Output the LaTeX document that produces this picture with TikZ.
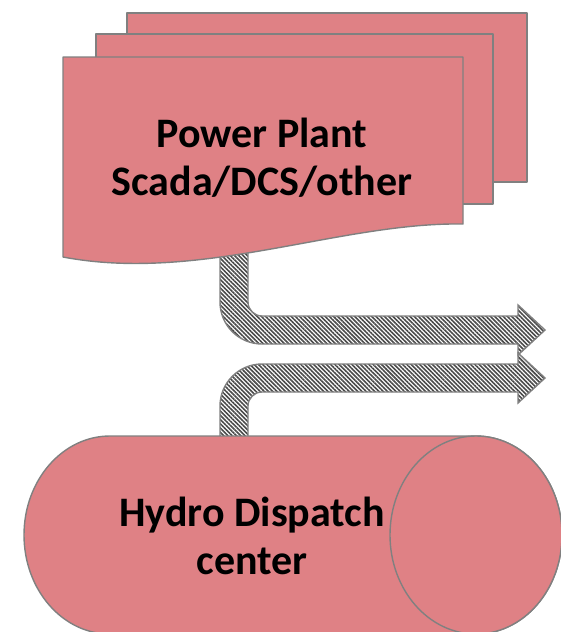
\documentclass[tikz,border=0pt]{standalone}
\usepackage{fontspec}
\setmainfont{Carlito}
\usetikzlibrary{patterns.meta}
\definecolor{sheetfill}{HTML}{DF8185}
\definecolor{edgegray}{HTML}{808080}
\definecolor{stripe}{HTML}{4A4A4A}
\tikzset{
  shapebox/.style={fill=sheetfill, draw=edgegray, line width=1.4pt, line join=round},
  stripearrow/.style={draw=edgegray, line width=1.4pt, line join=miter,
    pattern={Lines[angle=-45, distance=3pt, line width=1.6pt]}, pattern color=stripe},
  bigtext/.style={font=\fontsize{42}{48}\selectfont\bfseries, align=center, inner sep=0pt}
}
\begin{document}
\begin{tikzpicture}[x=1pt, y=-1pt]
\useasboundingbox (0,0) rectangle (561,632);
\fill[white] (0,0) rectangle (561,632);
% upper arrow (from power plant)
\draw[stripearrow] (220,250) -- (220,302)
  arc[start angle=180, end angle=90, radius=42]
  -- (518,344) -- (518,355) -- (545,330) -- (518,305) -- (518,316) -- (262,316)
  arc[start angle=90, end angle=180, radius=14]
  -- (248,250) -- cycle;
% lower arrow (from dispatch center)
\draw[stripearrow] (220,445) -- (220,406)
  arc[start angle=180, end angle=270, radius=42]
  -- (518,364) -- (518,353) -- (545,378) -- (518,403) -- (518,392) -- (262,392)
  arc[start angle=270, end angle=180, radius=14]
  -- (248,445) -- cycle;
% stacked documents
\draw[shapebox] (127,13) rectangle (527,182);
\draw[shapebox] (96,34) rectangle (493,204);
\draw[shapebox] (63,57) -- (463,57) -- (463,224)
  .. controls (340,222) and (200,283) .. (63,257) -- cycle;
\node[bigtext] (plant) at (262,158) {Power Plant\\Scada/DCS/other};
% cylinder
\draw[shapebox] (110,436) -- (476,436)
  arc[start angle=270, end angle=450, x radius=86, y radius=99]
  -- (110,634)
  arc[start angle=90, end angle=270, x radius=86, y radius=99] -- cycle;
\draw[shapebox] (476,535) ellipse [x radius=86, y radius=99];
\node[bigtext] (hdc) at (252,536) {Hydro Dispatch\\center};
\end{tikzpicture}
\end{document}
